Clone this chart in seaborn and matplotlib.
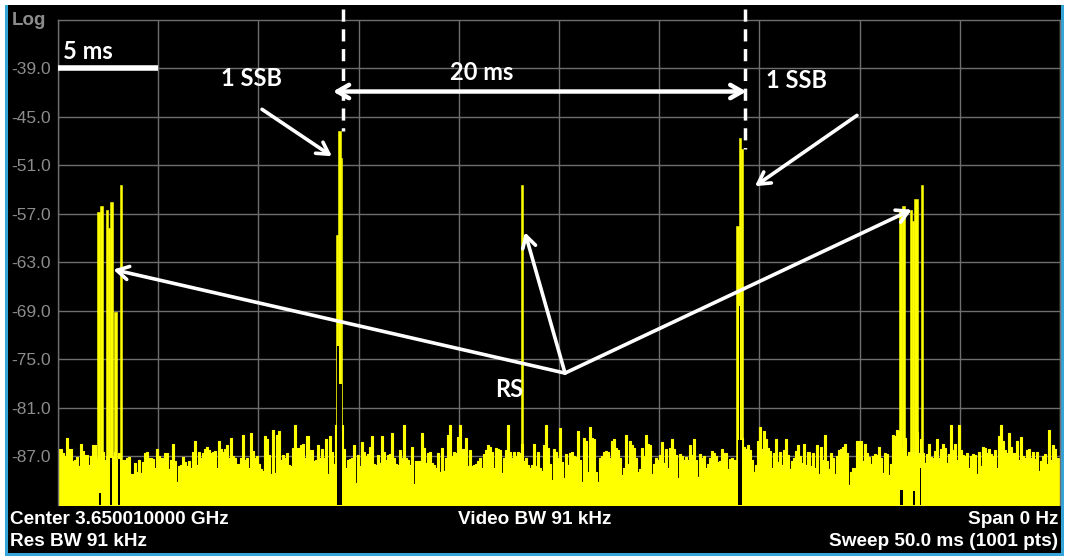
import numpy as np
import matplotlib
matplotlib.use("Agg")
import matplotlib.pyplot as plt
from matplotlib.patches import Rectangle
import seaborn as sns

# ---- zero-span sweep: 50 ms, noise floor sampled every 0.1 ms (dBm) ----
noise_floor = [
    -86.1, -86.1, -86.6, -87.0, -84.7, -86.1, -86.1, -87.6, -87.4, -87.1,
    -88.2, -85.5, -86.3, -86.8, -86.8, -88.0, -87.0, -85.6, -85.6, -87.2,
    -86.8, -87.4, -86.5, -87.4, -86.9, -87.6, -86.2, -87.0, -86.5, -87.3,
    -86.6, -87.8, -87.4, -87.4, -87.2, -87.1, -89.2, -89.2, -87.8, -88.9,
    -87.5, -89.1, -87.7, -86.6, -86.5, -87.2, -87.2, -87.3, -88.4, -86.1,
    -86.9, -87.2, -87.2, -86.6, -86.6, -88.5, -87.5, -85.5, -87.6, -90.2,
    -88.2, -88.0, -87.1, -87.7, -88.2, -87.6, -88.4, -86.4, -85.1, -88.0,
    -86.5, -87.2, -86.6, -86.1, -85.8, -86.2, -86.6, -86.4, -86.3, -88.4,
    -85.1, -86.1, -86.4, -86.1, -85.6, -87.2, -84.7, -87.0, -87.2, -87.9,
    -87.9, -87.2, -84.3, -87.4, -87.2, -88.4, -84.1, -86.3, -87.2, -86.9,
    -87.9, -88.6, -88.8, -84.5, -84.9, -86.8, -89.2, -83.7, -89.1, -84.3,
    -83.9, -87.5, -86.8, -87.2, -86.6, -88.0, -88.2, -86.0, -83.1, -85.9,
    -86.0, -85.6, -85.4, -87.2, -84.5, -86.2, -86.2, -87.6, -87.4, -85.6,
    -87.2, -86.1, -87.2, -84.9, -89.2, -84.5, -86.4, -87.9, -83.1, -86.0,
    -86.0, -83.1, -86.1, -88.4, -87.4, -87.3, -87.2, -85.6, -90.3, -86.8,
    -88.2, -85.2, -86.4, -86.9, -86.7, -85.8, -84.5, -87.9, -88.1, -86.8,
    -87.8, -84.5, -86.4, -87.4, -86.8, -86.7, -84.1, -87.2, -87.9, -88.0,
    -86.2, -87.2, -83.1, -87.2, -87.4, -88.0, -85.8, -90.4, -87.6, -87.6,
    -87.6, -84.1, -86.0, -87.8, -86.6, -86.5, -87.8, -88.0, -88.4, -86.6,
    -88.9, -85.9, -88.8, -87.2, -84.3, -83.1, -87.0, -86.5, -86.6, -84.6,
    -83.1, -86.1, -86.1, -84.7, -88.2, -86.2, -88.2, -88.1, -87.9, -87.6,
    -87.2, -88.4, -86.7, -86.2, -85.6, -85.8, -86.4, -88.4, -85.9, -86.1,
    -86.2, -89.1, -87.2, -86.2, -83.1, -86.4, -87.2, -86.4, -87.0, -86.4,
    -86.6, -85.4, -87.6, -87.2, -88.0, -88.4, -88.0, -85.4, -88.2, -86.4,
    -88.4, -88.8, -85.6, -83.1, -85.9, -87.9, -89.9, -86.1, -86.4, -87.2,
    -83.5, -87.7, -89.7, -86.7, -88.1, -86.6, -86.4, -87.0, -87.1, -83.8,
    -87.5, -90.2, -84.7, -85.1, -88.9, -83.3, -84.7, -84.9, -88.9, -90.2,
    -87.2, -87.0, -86.5, -86.3, -86.4, -87.2, -85.1, -84.9, -86.0, -86.2,
    -87.2, -89.3, -88.4, -84.4, -87.9, -85.1, -85.6, -86.0, -87.2, -88.9,
    -88.6, -85.9, -86.9, -84.4, -85.4, -85.6, -89.2, -87.9, -87.2, -87.4,
    -86.8, -85.2, -87.8, -86.1, -88.4, -85.9, -84.9, -86.1, -86.8, -89.7,
    -86.7, -86.9, -87.5, -87.1, -87.5, -85.6, -86.8, -84.8, -87.5, -89.5,
    -86.7, -87.2, -87.0, -88.4, -87.9, -87.2, -86.3, -86.6, -86.9, -87.7,
    -87.6, -86.1, -86.6, -86.6, -88.6, -87.3, -87.2, -87.4, -87.4, -86.0,
    -86.0, -84.7, -85.8, -86.1, -85.6, -86.2, -87.4, -88.9, -88.0, -85.1,
    -83.3, -86.1, -83.9, -84.8, -85.9, -86.3, -88.4, -86.6, -84.9, -87.7,
    -86.4, -88.0, -86.2, -84.9, -86.8, -88.6, -87.6, -87.2, -86.3, -85.6,
    -87.0, -87.8, -85.4, -88.0, -86.4, -88.2, -86.6, -88.4, -85.6, -89.2,
    -85.8, -87.4, -84.3, -87.6, -88.6, -86.6, -87.2, -89.2, -86.9, -86.2,
    -86.1, -85.8, -85.5, -86.6, -90.5, -88.9, -88.4, -88.4, -85.1, -85.1,
    -85.1, -87.6, -85.4, -86.6, -87.1, -87.9, -86.9, -86.7, -86.8, -85.8,
    -87.2, -89.1, -86.6, -86.7, -89.3, -87.9, -84.3, -84.5, -83.7, -83.9,
    -86.0, -86.0, -84.7, -86.9, -86.5, -86.5, -86.5, -86.5, -84.0, -86.6,
    -84.8, -86.6, -87.8, -86.7, -85.5, -87.1, -87.2, -86.3, -84.9, -87.2,
    -86.1, -85.5, -86.0, -87.8, -86.7, -83.1, -86.2, -85.4, -87.5, -83.1,
    -86.2, -86.8, -87.0, -86.6, -88.4, -86.9, -86.7, -86.8, -89.2, -86.5,
    -88.2, -85.8, -86.0, -86.6, -86.1, -86.7, -87.0, -86.2, -88.4, -84.5,
    -83.1, -85.1, -86.2, -86.6, -84.1, -85.8, -86.6, -86.6, -85.1, -87.5,
    -84.6, -87.0, -87.2, -86.2, -86.1, -87.2, -86.4, -87.3, -86.4, -88.8,
    -87.6, -87.0, -86.7, -87.9, -83.7, -87.4, -85.6, -86.1, -87.2, -87.2,
]
sample_ms = 0.1
sweep_ms = 50.0

# ---- signal bursts riding on the floor (start ms, end ms, level dBm) ----
burst_start = [1.93, 2.10, 2.40, 2.50, 2.60, 2.81, 3.07,        # RS block
               13.87, 13.97, 14.10,                              # SSB
               23.08,                                            # RS
               33.83, 33.97, 34.10,                              # SSB
               41.98, 42.10, 42.50, 42.62, 42.72, 43.06]         # RS block
burst_end = [2.10, 2.26, 2.50, 2.60, 2.74, 2.96, 3.17,
             13.97, 14.10, 14.19,
             23.18,
             33.97, 34.10, 34.20,
             42.10, 42.25, 42.62, 42.72, 42.93, 43.14]
burst_level = [-56.8, -56.1, -56.5, -58.8, -55.6, -69.2, -53.4,
               -59.6, -46.8, -50.1,
               -53.5,
               -58.5, -47.6, -49.0,
               -56.5, -56.1, -56.5, -57.9, -55.2, -53.4]

# ---- intervals where the trace stays above the floor (no fill below) ----
hold_start = [2.07, 2.60, 3.01, 13.92, 14.04, 33.92, 33.97, 42.00, 42.64, 42.99]
hold_end = [2.15, 2.70, 3.07, 14.04, 14.19, 34.12, 34.04, 42.15, 42.74, 43.06]
hold_top = [-91.5, -87.2, -87.3, -73.4, -78.0, -85.0, -68.4, -91.1, -91.3, -88.4]

y_ticks = [-39.0, -45.0, -51.0, -57.0, -63.0, -69.0, -75.0, -81.0, -87.0]
y_bottom, y_top = -93.0, -33.0

footer_left = ["Center 3.650010000 GHz", "Res BW 91 kHz"]
footer_mid = "Video BW 91 kHz"
footer_right = ["Span 0 Hz", "Sweep 50.0 ms (1001 pts)"]

# ---------------------------------------------------------------------
sns.set_theme(style="dark")
plt.rcParams["font.family"] = ["Liberation Sans", "DejaVu Sans"]

W, H = 1065, 558
fig = plt.figure(figsize=(W / 100, H / 100), dpi=100, facecolor="white")

# instrument panel: black screen with a blue frame
blue = "#35a4d8"
fig.patches.append(Rectangle((5 / W, 2 / H), 1059 / W, 551 / H,
                             transform=fig.transFigure, facecolor=blue,
                             edgecolor="none", zorder=-2))
fig.patches.append(Rectangle((8 / W, 5 / H), 1053 / W, 548 / H,
                             transform=fig.transFigure, facecolor="black",
                             edgecolor="none", zorder=-1))

ax = fig.add_axes([58 / W, 53 / H, 1002 / W, 485.5 / H])
ax.set_facecolor("black")

yellow = "#ffff00"
t = np.arange(len(noise_floor)) * sample_ms
t_edges = np.append(t, sweep_ms)
floor_edges = np.append(noise_floor, noise_floor[-1])

ax.fill_between(t_edges, y_bottom - 5, floor_edges, step="post",
                color=yellow, linewidth=0, zorder=2)
sns.lineplot(x=t_edges, y=floor_edges, drawstyle="steps-post", color=yellow,
             linewidth=0.8, ax=ax, zorder=2, legend=False)

widths = [e - s for s, e in zip(burst_start, burst_end)]
ax.bar(burst_start, [lv - (y_bottom - 5) for lv in burst_level], width=widths,
       bottom=y_bottom - 5, align="edge", color=yellow, edgecolor=yellow,
       linewidth=0.4, zorder=3)

hold_w = [e - s for s, e in zip(hold_start, hold_end)]
ax.bar(hold_start, [h - (y_bottom - 5) for h in hold_top], width=hold_w,
       bottom=y_bottom - 5, align="edge", color="black", linewidth=0, zorder=4)

ax.set_xlim(0, sweep_ms)
ax.set_ylim(y_bottom, y_top)
ax.set_xticks(np.arange(0, sweep_ms + 0.1, 5.0))
ax.set_yticks(y_ticks)
ax.set_yticklabels([f"{v:.1f}" for v in y_ticks])
ax.tick_params(axis="x", length=0, labelbottom=False)
ax.tick_params(axis="y", length=0, pad=5, labelsize=12.5, labelcolor="#8c8c8c")
ax.grid(True, color="#6e6e6e", linewidth=1.0, zorder=1)
ax.set_axisbelow(True)
for side in ["top", "left", "right"]:
    ax.spines[side].set_color("#6e6e6e")
    ax.spines[side].set_linewidth(1.0)
ax.spines["bottom"].set_visible(False)
ax.set_xlabel("")
ax.set_ylabel("")

fig.text(12 / W, 1 - 25 / H, "Log", color="#8c8c8c", fontsize=13.5,
         fontweight="bold", va="baseline", ha="left")

# ---- annotations ----
ann_font = dict(family=["Lato", "DejaVu Sans"], fontweight="bold",
                color="white", fontsize=17)
white = "white"

# 5 ms scale bar
ax.plot([0, 5], [-39, -39], color=white, linewidth=4, solid_capstyle="butt",
        zorder=6, clip_on=False)
ax.text(0.25, -38.4, "5 ms", ha="left", va="bottom", **ann_font, zorder=6)

# SSB period markers
ax.plot([14.2, 14.2], [-31.7, -46.8], color=white, linewidth=2.5,
        linestyle=(0, (3.5, 2.2)), zorder=6, clip_on=False)
ax.plot([34.3, 34.3], [-31.7, -49.0], color=white, linewidth=2.5,
        linestyle=(0, (3.5, 2.2)), zorder=6, clip_on=False)
ax.annotate("", xy=(13.72, -41.9), xytext=(34.35, -41.9),
            arrowprops=dict(arrowstyle="<->,head_length=0.7,head_width=0.4",
                            color=white, lw=3.2, shrinkA=0, shrinkB=0),
            zorder=6)
ax.text(21.16, -39.5, "20 ms", ha="center", va="center", **ann_font, zorder=6)

ax.text(9.68, -40.25, "1 SSB", ha="center", va="center", **ann_font, zorder=6)
ax.text(36.83, -40.5, "1 SSB", ha="center", va="center", **ann_font, zorder=6)

arrow_kw = dict(arrowstyle="->,head_length=0.7,head_width=0.4", color=white,
                lw=2.6, shrinkA=0, shrinkB=0)
ax.annotate("", xy=(13.67, -49.9), xytext=(10.18, -44.1),
            arrowprops=arrow_kw, zorder=6)
ax.annotate("", xy=(34.78, -53.6), xytext=(39.87, -44.85),
            arrowprops=arrow_kw, zorder=6)

# reference-signal pointers
ax.text(22.5, -78.75, "RS", ha="center", va="center", **ann_font, zorder=6)
rs_origin = (25.3, -76.7)
for tip in [(2.76, -63.9), (23.3, -59.3), (42.6, -56.5)]:
    ax.annotate("", xy=tip, xytext=rs_origin, arrowprops=arrow_kw, zorder=6)

# ---- footer ----
foot = dict(color="white", fontsize=13.7, fontweight="bold")
fig.text(10 / W, 1 - 520 / H, footer_left[0], ha="left", va="center", **foot)
fig.text(10 / W, 1 - 542 / H, footer_left[1], ha="left", va="center", **foot)
fig.text(535 / W, 1 - 520 / H, footer_mid, ha="center", va="center", **foot)
fig.text(1058 / W, 1 - 520 / H, footer_right[0], ha="right", va="center", **foot)
fig.text(1058 / W, 1 - 542 / H, footer_right[1], ha="right", va="center", **foot)

fig.savefig("out.png", dpi=100, facecolor="white")
